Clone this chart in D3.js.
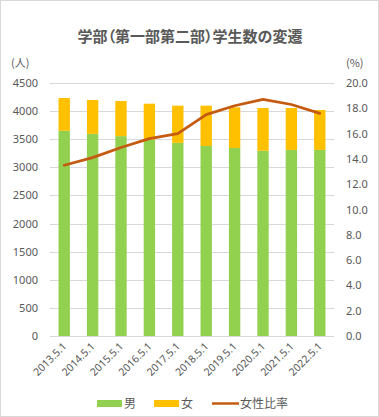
<!DOCTYPE html>
<html><head><meta charset="utf-8">
<script src="https://cdn.jsdelivr.net/npm/d3@7"></script>
<style>body{margin:0;background:#fff}svg{display:block}text{font-family:"Noto Sans CJK JP","Noto Sans",sans-serif}</style>
</head><body><svg id="c" width="379" height="417"></svg>
<script>
const categories = ["2013.5.1","2014.5.1","2015.5.1","2016.5.1","2017.5.1","2018.5.1","2019.5.1","2020.5.1","2021.5.1","2022.5.1"];
const male   = [3650,3595,3555,3490,3435,3380,3345,3295,3310,3310];
const female = [583,603,625,642,662,717,723,761,746,710];
const ratio  = [13.5,14.1,14.9,15.6,16.0,17.5,18.2,18.7,18.3,17.6];
const leftTicks = [0,500,1000,1500,2000,2500,3000,3500,4000,4500];
const rightTicks = [0,2,4,6,8,10,12,14,16,18,20];
const seriesNames = ["男","女","女性比率"];
const colors = {male:"#92D050", female:"#FFC000", line:"#C55A11"};

const svg = d3.select("#c");
const W=379,H=417;
svg.append("rect").attr("x",0.5).attr("y",0.5).attr("width",W-1).attr("height",H-1).attr("fill","#fff").attr("stroke","#d9d9d9");
const m={l:50,r:45,t:83,b:81};
const x=d3.scaleBand().domain(categories).range([m.l,W-m.r]).paddingInner(0.6).paddingOuter(0.3);
const y=d3.scaleLinear().domain([0,4500]).range([H-m.b,m.t]);
const y2=d3.scaleLinear().domain([0,20]).range([H-m.b,m.t]);
const txt="#595959";

svg.append("text").attr("x",190).attr("y",42).attr("text-anchor","middle").attr("font-size",15).attr("font-weight","bold").attr("fill",txt)
  .style("font-feature-settings","'palt'").text("学部（第一部第二部）学生数の変遷");

// grid
svg.append("g").selectAll("line").data(leftTicks).join("line")
  .attr("x1",m.l).attr("x2",W-m.r).attr("y1",d=>Math.round(y(d))+0.5).attr("y2",d=>Math.round(y(d))+0.5)
  .attr("stroke","#d9d9d9").attr("stroke-width",1);

// left axis
const gl=svg.append("g").attr("transform",`translate(${m.l-12},0)`).call(d3.axisLeft(y).tickValues(leftTicks).tickFormat(d3.format("d")).tickSize(0).tickPadding(0));
gl.select(".domain").remove();
gl.selectAll("text").attr("fill",txt).attr("font-size",11).style("font-family","'Noto Sans',sans-serif");
// right axis
const gr=svg.append("g").attr("transform",`translate(${W-m.r+12},0)`).call(d3.axisRight(y2).tickValues(rightTicks).tickFormat(d3.format(".1f")).tickSize(0).tickPadding(0));
gr.select(".domain").remove();
gr.selectAll("text").attr("fill",txt).attr("font-size",11).style("font-family","'Noto Sans',sans-serif");

svg.append("text").attr("x",11).attr("y",67).attr("font-size",11).attr("fill",txt).text("(人)");
svg.append("text").attr("x",346).attr("y",67).attr("font-size",11).attr("fill",txt).text("(%)");

// bars
const bw=x.bandwidth();
svg.append("g").selectAll("rect").data(categories).join("rect")
  .attr("x",d=>x(d)).attr("width",bw)
  .attr("y",(d,i)=>y(male[i])).attr("height",(d,i)=>y(0)-y(male[i])).attr("fill",colors.male);
svg.append("g").selectAll("rect").data(categories).join("rect")
  .attr("x",d=>x(d)).attr("width",bw)
  .attr("y",(d,i)=>y(male[i]+female[i])).attr("height",(d,i)=>y(male[i])-y(male[i]+female[i])).attr("fill",colors.female);

// line
const line=d3.line().x((d,i)=>x(categories[i])+bw/2).y(d=>y2(d));
svg.append("path").datum(ratio).attr("d",line).attr("fill","none").attr("stroke",colors.line).attr("stroke-width",2.75).attr("stroke-linejoin","round").attr("stroke-linecap","round");

// x labels
svg.append("g").selectAll("text").data(categories).join("text")
  .attr("transform",d=>`translate(${x(d)+bw/2+3},${H-m.b+11}) rotate(-45)`)
  .attr("text-anchor","end").attr("font-size",10.5).attr("fill",txt).style("font-family","'Noto Sans',sans-serif").text(d=>d);

// legend
const lg=svg.append("g");
const items=[{n:seriesNames[0],c:colors.male,x:97,t:"bar"},{n:seriesNames[1],c:colors.female,x:154,t:"bar"},{n:seriesNames[2],c:colors.line,x:212,t:"line"}];
items.forEach(it=>{
  if(it.t==="bar") lg.append("rect").attr("x",it.x).attr("y",400).attr("width",25).attr("height",7).attr("fill",it.c);
  else lg.append("line").attr("x1",it.x).attr("x2",it.x+27).attr("y1",403.5).attr("y2",403.5).attr("stroke",it.c).attr("stroke-width",2.5);
  lg.append("text").attr("x",it.x+(it.t==="bar"?27:28)).attr("y",408).attr("font-size",12).attr("fill",txt).text(it.n);
});
</script></body></html>
